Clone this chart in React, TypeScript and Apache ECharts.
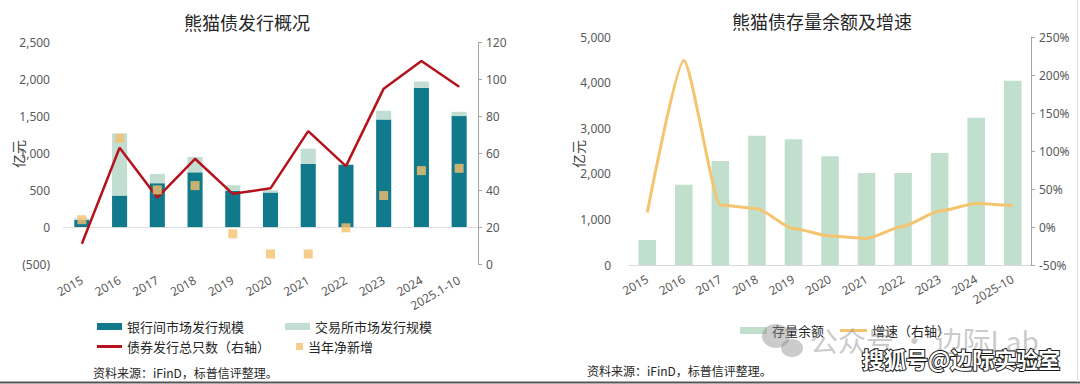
import React, { useEffect, useRef } from "react";
import * as echarts from "echarts";

const catsL = ["2015", "2016", "2017", "2018", "2019", "2020", "2021", "2022", "2023", "2024", "2025.1-10"];
const bankIssue = [100, 427, 594, 742, 490, 468, 855, 841, 1458, 1885, 1503];
const exchIssue = [20, 842, 126, 208, 77, 32, 207, 14, 117, 86, 58];
const countIssue = [11, 63, 36, 57, 38, 41, 72, 53, 95, 110, 96];
const netNew = [100, 1201, 504, 562, -90, -364, -364, -10, 427, 765, 796];

const catsR = ["2015", "2016", "2017", "2018", "2019", "2020", "2021", "2022", "2023", "2024", "2025-10"];
const stock = [548, 1762, 2281, 2836, 2756, 2383, 2018, 2018, 2456, 3231, 4042];
const growth = [19, 219, 29, 24, -2, -12, -15, 1, 21, 31, 28];

const CJK = '"Noto Sans CJK SC", "Noto Sans", sans-serif';
const NUM = '"Noto Sans", "Noto Sans CJK SC", sans-serif';
const AX = "#595959";

const fmtL = (v: number) => {
  const s = Math.abs(v).toLocaleString("en-US");
  return v < 0 ? `(${s})` : s;
};

export default function App() {
  const ref = useRef<HTMLDivElement>(null);
  useEffect(() => {
    if (!ref.current) return;
    const chart = echarts.init(ref.current, null, { renderer: "svg" });
    const axisLabel = { color: AX, fontSize: 12, fontFamily: NUM };
    const legendBase = {
      padding: 0,
      itemGap: 0,
      textStyle: { color: "#262626", fontSize: 13, fontFamily: CJK },
    };
    chart.setOption({
      animation: false,
      backgroundColor: "#ffffff",
      grid: [
        { left: 63, right: 602, top: 42.5, bottom: 120 },
        { left: 629, right: 49, top: 37, bottom: 119 },
      ],
      legend: [
        { ...legendBase, data: [{ name: "银行间市场发行规模", icon: "rect" }], left: 97, top: 320, itemWidth: 25, itemHeight: 7 },
        { ...legendBase, data: [{ name: "交易所市场发行规模", icon: "rect" }], left: 285, top: 320, itemWidth: 25, itemHeight: 7 },
        { ...legendBase, data: [{ name: "债券发行总只数（右轴）", icon: "rect" }], left: 97, top: 340, itemWidth: 25, itemHeight: 3 },
        { ...legendBase, data: [{ name: "当年净新增", icon: "rect" }], left: 296, top: 340, itemWidth: 7, itemHeight: 7 },
        { ...legendBase, data: [{ name: "存量余额", icon: "rect" }], left: 740, top: 324, itemWidth: 27, itemHeight: 7 },
        { ...legendBase, data: [{ name: "增速（右轴）", icon: "rect" }], left: 840, top: 324, itemWidth: 27, itemHeight: 3 },
      ],
      xAxis: [
        {
          type: "category",
          gridIndex: 0,
          data: catsL,
          axisLine: { show: false },
          axisTick: { show: false },
          axisLabel: { ...axisLabel, rotate: 30, margin: 15, interval: 0 },
        },
        {
          type: "category",
          gridIndex: 1,
          data: catsR,
          axisLine: { show: true, lineStyle: { color: "#d9d9d9" } },
          axisTick: { show: false },
          axisLabel: { ...axisLabel, rotate: 30, margin: 13, interval: 0 },
        },
      ],
      yAxis: [
        {
          type: "value",
          gridIndex: 0,
          min: -500,
          max: 2500,
          interval: 500,
          axisLine: { show: false },
          axisTick: { show: false },
          splitLine: { show: false },
          axisLabel: { ...axisLabel, margin: 13, formatter: fmtL },
        },
        {
          type: "value",
          gridIndex: 0,
          position: "right",
          min: 0,
          max: 120,
          interval: 20,
          axisLine: { show: true, lineStyle: { color: "#a6a6a6" } },
          axisTick: { show: true, length: 4, lineStyle: { color: "#a6a6a6" } },
          splitLine: { show: false },
          axisLabel: { ...axisLabel, margin: 8 },
        },
        {
          type: "value",
          gridIndex: 1,
          min: 0,
          max: 5000,
          interval: 1000,
          axisLine: { show: false },
          axisTick: { show: false },
          splitLine: { show: false },
          axisLabel: { ...axisLabel, margin: 18, formatter: (v: number) => v.toLocaleString("en-US") },
        },
        {
          type: "value",
          gridIndex: 1,
          position: "right",
          min: -50,
          max: 250,
          interval: 50,
          axisLine: { show: true, lineStyle: { color: "#a6a6a6" } },
          axisTick: { show: true, length: 4, lineStyle: { color: "#a6a6a6" } },
          splitLine: { show: false },
          axisLabel: { ...axisLabel, margin: 8, formatter: "{value}%" },
        },
      ],
      series: [
        {
          name: "银行间市场发行规模",
          type: "bar",
          xAxisIndex: 0,
          yAxisIndex: 0,
          stack: "issue",
          barWidth: "40%",
          data: bankIssue,
          itemStyle: { color: "#107a8c" },
          markLine: {
            silent: true,
            symbol: "none",
            label: { show: false },
            lineStyle: { color: "#e0e0e0", width: 1, type: "solid" },
            data: [{ yAxis: 0 }],
            z: 1,
          },
        },
        {
          name: "交易所市场发行规模",
          type: "bar",
          xAxisIndex: 0,
          yAxisIndex: 0,
          stack: "issue",
          barWidth: "40%",
          data: exchIssue,
          itemStyle: { color: "#c2ddd2" },
        },
        {
          name: "债券发行总只数（右轴）",
          type: "line",
          xAxisIndex: 0,
          yAxisIndex: 1,
          data: countIssue,
          symbol: "none",
          lineStyle: { color: "#b5121b", width: 2.5 },
          itemStyle: { color: "#b5121b" },
          z: 4,
        },
        {
          name: "当年净新增",
          type: "scatter",
          xAxisIndex: 0,
          yAxisIndex: 0,
          data: netNew,
          symbol: "rect",
          symbolSize: 9,
          itemStyle: { color: "#f5c06e" },
          z: 6,
        },
        {
          name: "存量余额",
          type: "bar",
          xAxisIndex: 1,
          yAxisIndex: 2,
          barWidth: "48%",
          data: stock,
          itemStyle: { color: "#c0dfcd" },
        },
        {
          name: "增速（右轴）",
          type: "line",
          xAxisIndex: 1,
          yAxisIndex: 3,
          data: growth,
          smooth: 0.2,
          smoothMonotone: "x",
          symbol: "none",
          lineStyle: { color: "#f5c46e", width: 3 },
          itemStyle: { color: "#f5c46e" },
          z: 4,
        },
      ],
      graphic: [
        {
          type: "text",
          x: 247,
          y: 22,
          style: { text: "熊猫债发行概况", fontSize: 18, fontFamily: CJK, fill: "#262626", align: "center", verticalAlign: "middle" },
        },
        {
          type: "text",
          x: 822,
          y: 21,
          style: { text: "熊猫债存量余额及增速", fontSize: 18, fontFamily: CJK, fill: "#262626", align: "center", verticalAlign: "middle" },
        },
        {
          type: "text",
          x: 18,
          y: 154,
          rotation: Math.PI / 2,
          style: { text: "亿元", fontSize: 14, fontFamily: CJK, fill: "#404040", align: "center", verticalAlign: "middle" },
        },
        {
          type: "text",
          x: 578,
          y: 154,
          rotation: Math.PI / 2,
          style: { text: "亿元", fontSize: 14, fontFamily: CJK, fill: "#404040", align: "center", verticalAlign: "middle" },
        },
        {
          type: "text",
          x: 93,
          y: 372,
          style: { text: "资料来源：iFinD，标普信评整理。", fontSize: 12, fontFamily: CJK, fill: "#262626", verticalAlign: "middle" },
        },
        {
          type: "text",
          x: 587,
          y: 370,
          style: { text: "资料来源：iFinD，标普信评整理。", fontSize: 12, fontFamily: CJK, fill: "#262626", verticalAlign: "middle" },
        },
        {
          type: "ellipse",
          shape: { cx: 776, cy: 336, rx: 14, ry: 12 },
          style: { fill: "rgba(140,140,140,0.45)" },
          z: 10,
        },
        {
          type: "ellipse",
          shape: { cx: 792, cy: 348, rx: 11, ry: 9 },
          style: { fill: "rgba(140,140,140,0.45)" },
          z: 10,
        },
        {
          type: "text",
          x: 810,
          y: 340,
          style: { text: "公众号 · 边际Lab", fontSize: 28, fontFamily: CJK, fill: "rgba(150,150,150,0.5)", verticalAlign: "middle" },
          z: 10,
        },
        {
          type: "text",
          x: 862,
          y: 358,
          style: {
            text: "搜狐号@边际实验室",
            fontSize: 22,
            fontWeight: "bold",
            fontFamily: CJK,
            fill: "#ffffff",
            stroke: "#1a1a1a",
            lineWidth: 2,
            verticalAlign: "middle",
          },
          z: 11,
        },
        {
          type: "line",
          shape: { x1: 0, y1: 382.5, x2: 1080, y2: 382.5 },
          style: { stroke: "#555555", lineWidth: 2 },
        },
        {
          type: "line",
          shape: { x1: 1077.5, y1: 0, x2: 1077.5, y2: 382 },
          style: { stroke: "#dddddd", lineWidth: 1 },
        },
      ],
    });
    return () => chart.dispose();
  }, []);
  return (
    <div
      ref={ref}
      style={{ position: "absolute", left: 0, top: 0, width: 1080, height: 384, background: "#fff" }}
    />
  );
}
